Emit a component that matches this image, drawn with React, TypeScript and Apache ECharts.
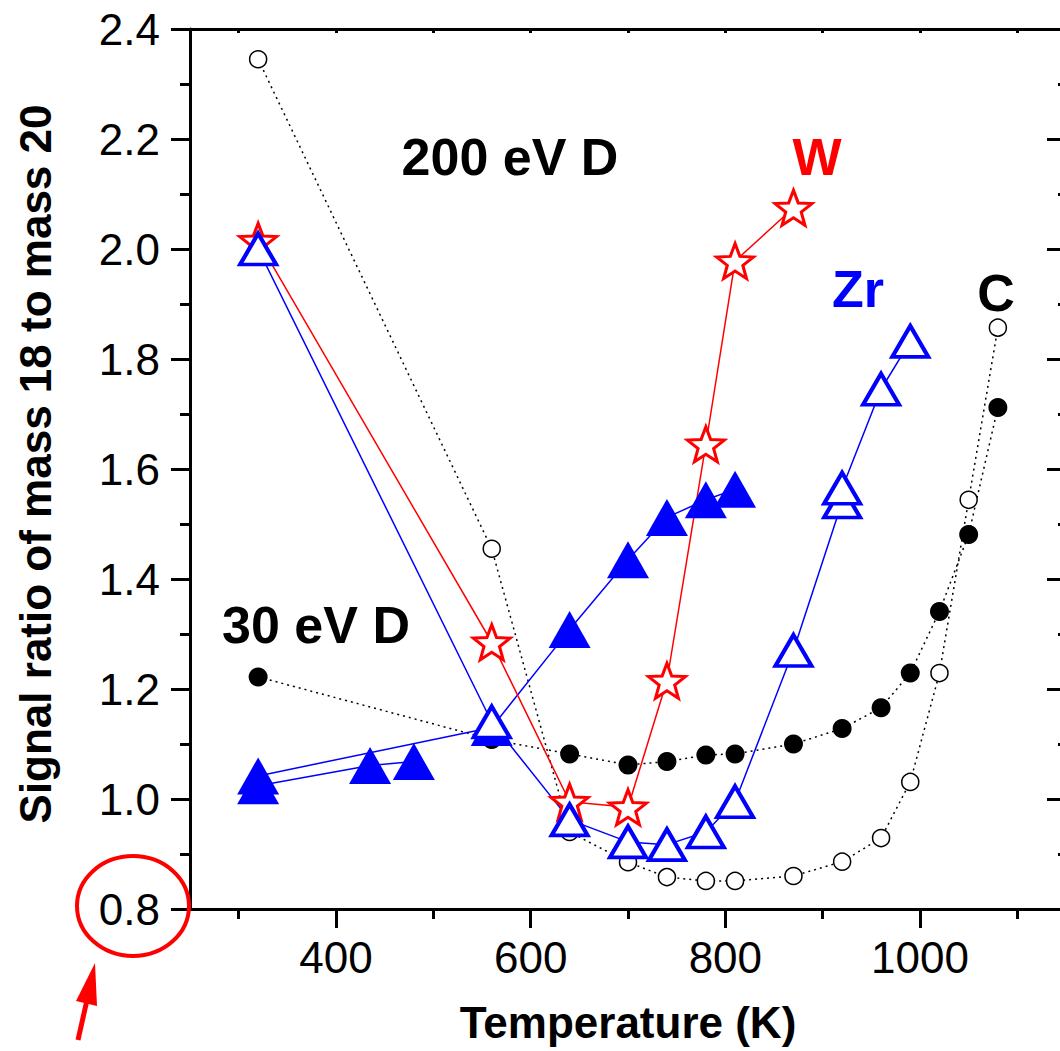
import React, { useEffect, useRef } from "react";
import * as echarts from "echarts";

// ---- data ----
const tempC200 = [320, 560, 640, 700, 740, 780, 810, 870, 920, 960, 990, 1020, 1050, 1080];
const ratioC200 = [2.345, 1.455, 0.94, 0.885, 0.858, 0.851, 0.851, 0.86, 0.886, 0.929, 1.031, 1.229, 1.544, 1.857];

const tempC30 = [320, 560, 640, 700, 740, 780, 810, 870, 920, 960, 990, 1020, 1050, 1080];
const ratioC30 = [1.222, 1.108, 1.082, 1.062, 1.068, 1.08, 1.082, 1.1, 1.128, 1.166, 1.229, 1.341, 1.481, 1.712];

const tempW200 = [320, 560, 640, 700, 740, 780, 810, 870];
const ratioW200 = [2.015, 1.285, 0.995, 0.985, 1.215, 1.645, 1.978, 2.075];

const tempZr200 = [320, 560, 640, 700, 740, 780, 810, 870, 920, 920, 960, 990];
const ratioZr200 = [2.0, 1.14, 0.962, 0.922, 0.917, 0.94, 0.995, 1.27, 1.54, 1.565, 1.745, 1.832];

const tempZr30 = [480, 435, 320, 320, 560, 640, 700, 740, 780, 810];
const ratioZr30 = [1.068, 1.061, 1.024, 1.042, 1.13, 1.308, 1.435, 1.512, 1.544, 1.563];

const xMajorTicks = [400, 600, 800, 1000];
const xMinorTicks = [300, 500, 700, 900, 1100];
const xTopTicks = [300, 400, 500, 600, 700, 800, 900, 1000, 1100];

const FONT = '"Liberation Sans", Arial, Helvetica, sans-serif';
const STAR =
  "path://M0,-50 L12.34,-16.99 L47.55,-15.45 L19.97,6.49 L29.39,40.45 L0,21 L-29.39,40.45 L-19.97,6.49 L-47.55,-15.45 L-12.34,-16.99 Z";

const pairs = (xs: number[], ys: number[]) => xs.map((x, i) => [x, ys[i]]);

export default function App() {
  const ref = useRef<HTMLDivElement>(null);
  useEffect(() => {
    const chart = echarts.init(ref.current!, null, { renderer: "svg" });
    const axisLine = { show: true, lineStyle: { color: "#000", width: 3 } };
    const option: any = {
      animation: false,
      backgroundColor: "#fff",
      grid: { left: 190, top: 29, width: 876, height: 880, containLabel: false, outerBoundsMode: "none" },
      xAxis: [
        {
          type: "value", min: 250, max: 1150, position: "bottom",
          axisLine,
          axisTick: { show: true, customValues: xMajorTicks, length: 19, inside: false, lineStyle: { color: "#000", width: 3 } },
          axisLabel: { show: true, customValues: xMajorTicks, fontSize: 44, color: "#000", fontFamily: FONT, margin: 26, formatter: (v: number) => String(v) },
          splitLine: { show: false },
        },
        {
          type: "value", min: 250, max: 1150, position: "bottom", offset: 0,
          axisLine: { show: false },
          axisTick: { show: true, customValues: xMinorTicks, length: 10, inside: false, lineStyle: { color: "#000", width: 3 } },
          axisLabel: { show: false },
          splitLine: { show: false },
        },
        {
          type: "value", min: 250, max: 1150, position: "top",
          axisLine,
          axisTick: { show: true, customValues: xTopTicks, length: 4, inside: true, lineStyle: { color: "#000", width: 3 } },
          axisLabel: { show: false },
          splitLine: { show: false },
        },
      ],
      yAxis: [
        {
          type: "value", min: 0.8, max: 2.4, interval: 0.2, position: "left",
          axisLine,
          axisTick: { show: true, length: 19, inside: false, lineStyle: { color: "#000", width: 3 } },
          minorTick: { show: true, splitNumber: 2, length: 10, lineStyle: { color: "#000", width: 3 } },
          axisLabel: { fontSize: 44, color: "#000", fontFamily: FONT, margin: 30, formatter: (v: number) => v.toFixed(1) },
          splitLine: { show: false },
        },
        {
          type: "value", min: 0.8, max: 2.4, interval: 0.2, position: "right",
          axisLine,
          axisTick: { show: true, length: 19, inside: true, lineStyle: { color: "#000", width: 3 } },
          minorTick: { show: true, splitNumber: 2, length: 8, lineStyle: { color: "#000", width: 3 } },
          axisLabel: { show: false },
          splitLine: { show: false },
        },
      ],
      series: [
        {
          name: "C 30 eV D", type: "line", data: pairs(tempC30, ratioC30),
          symbol: "circle", symbolSize: 19,
          itemStyle: { color: "#000" },
          lineStyle: { color: "#000", width: 1.5, type: [2, 4] },
        },
        {
          name: "C 200 eV D", type: "line", data: pairs(tempC200, ratioC200),
          symbol: "circle", symbolSize: 17,
          itemStyle: { color: "#fff", borderColor: "#000", borderWidth: 1.5 },
          lineStyle: { color: "#000", width: 1.5, type: [2, 4] },
        },
        {
          name: "Zr 30 eV D", type: "line", data: pairs(tempZr30, ratioZr30),
          symbol: "triangle", symbolSize: [42, 37],
          itemStyle: { color: "#0000ff" },
          lineStyle: { color: "#0000ff", width: 1.5 },
        },
        {
          name: "W 200 eV D", type: "line", data: pairs(tempW200, ratioW200),
          symbol: STAR, symbolSize: [37, 35],
          itemStyle: { color: "#fff", borderColor: "#ff0000", borderWidth: 3 },
          lineStyle: { color: "#ff0000", width: 1.5 },
        },
        {
          name: "Zr 200 eV D", type: "line", data: pairs(tempZr200, ratioZr200),
          symbol: "triangle", symbolSize: [36, 31],
          itemStyle: { color: "#fff", borderColor: "#0000ff", borderWidth: 4 },
          lineStyle: { color: "#0000ff", width: 1.5 },
        },
      ],
      graphic: [
        {
          type: "text", x: 35, y: 464, rotation: Math.PI / 2,
          style: { text: "Signal ratio of mass 18 to mass 20", fontSize: 44, fontWeight: "bold", fontFamily: FONT, fill: "#000", align: "center", verticalAlign: "middle" },
        },
        {
          type: "text", x: 628, y: 1022,
          style: { text: "Temperature (K)", fontSize: 44, fontWeight: "bold", fontFamily: FONT, fill: "#000", align: "center", verticalAlign: "middle" },
        },
        {
          type: "text", x: 510, y: 157,
          style: { text: "200 eV D", fontSize: 52, fontWeight: "bold", fontFamily: FONT, fill: "#000", align: "center", verticalAlign: "middle" },
        },
        {
          type: "text", x: 316, y: 625,
          style: { text: "30 eV D", fontSize: 52, fontWeight: "bold", fontFamily: FONT, fill: "#000", align: "center", verticalAlign: "middle" },
        },
        {
          type: "text", x: 817, y: 157,
          style: { text: "W", fontSize: 52, fontWeight: "bold", fontFamily: FONT, fill: "#ff0000", align: "center", verticalAlign: "middle" },
        },
        {
          type: "text", x: 858, y: 289,
          style: { text: "Zr", fontSize: 52, fontWeight: "bold", fontFamily: FONT, fill: "#0000ff", align: "center", verticalAlign: "middle" },
        },
        {
          type: "text", x: 996, y: 293,
          style: { text: "C", fontSize: 52, fontWeight: "bold", fontFamily: FONT, fill: "#000", align: "center", verticalAlign: "middle" },
        },
        {
          type: "ellipse", shape: { cx: 133, cy: 906, rx: 56, ry: 50 },
          style: { fill: "none", stroke: "#ff0000", lineWidth: 4 }, z: 100,
        },
        {
          type: "line", shape: { x1: 78, y1: 1040, x2: 87, y2: 1000 },
          style: { stroke: "#ff0000", lineWidth: 5 }, z: 100,
        },
        {
          type: "polygon", shape: { points: [[95, 963], [97, 1006], [76, 1001]] },
          style: { fill: "#ff0000" }, z: 100,
        },
      ],
    };
    chart.setOption(option);
    return () => chart.dispose();
  }, []);
  return (
    <div
      ref={ref}
      style={{ position: "absolute", left: 0, top: 0, width: 1060, height: 1051, background: "#fff" }}
    />
  );
}
